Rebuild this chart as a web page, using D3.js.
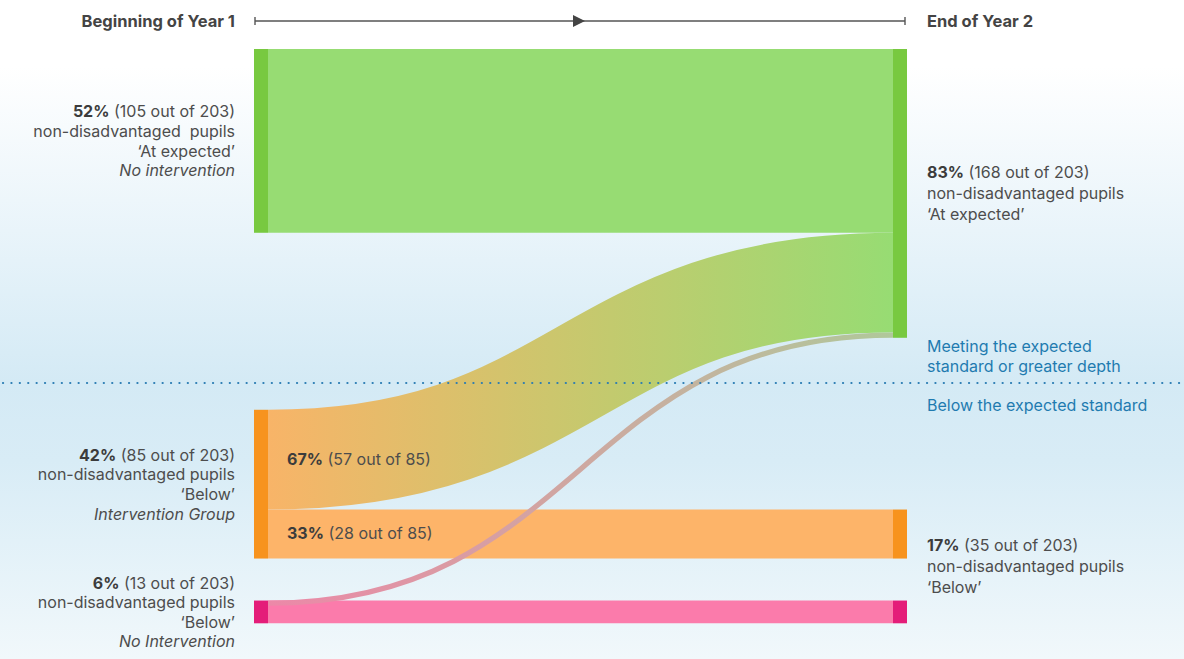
<!DOCTYPE html>
<html>
<head>
<meta charset="utf-8">
<script src="https://cdn.jsdelivr.net/npm/d3@7"></script>
<style>
  body { margin: 0; background: #fff; }
  svg { display: block; font-family: Inter, "Open Sans", sans-serif; }
  text { white-space: pre; }
</style>
</head>
<body>
<svg id="chart" width="1184" height="659"></svg>
<script>
// pupils per group (203 non-disadvantaged pupils)
var nodeIds    = ["y1Expected", "y1Intervention", "y1NoIntervention", "y2Expected", "y2Below", "y2BelowNoInt"];
var nodeCols   = [0, 0, 0, 1, 1, 1];
var nodeFill   = ["#78c940", "#f7931e", "#e41d79", "#78c940", "#f7931e", "#e41d79"];
var linkSource = ["y1Expected", "y1Intervention", "y1Intervention", "y1NoIntervention", "y1NoIntervention"];
var linkTarget = ["y2Expected", "y2Expected", "y2Below", "y2BelowNoInt", "y2Expected"];
var linkValues = [105, 57, 28, 13, 3];
var totalPupils = 203;

var leftLabels = [
  {bold: "52%", rest: " (105 out of 203)", lines: ["non-disadvantaged  pupils", "\u2018At expected\u2019"], italic: "No intervention"},
  {bold: "42%", rest: " (85 out of 203)", lines: ["non-disadvantaged pupils", "\u2018Below\u2019"], italic: "Intervention Group"},
  {bold: "6%", rest: " (13 out of 203)", lines: ["non-disadvantaged pupils", "\u2018Below\u2019"], italic: "No Intervention"}
];
var rightLabels = [
  {bold: "83%", rest: " (168 out of 203)", lines: ["non-disadvantaged pupils", "\u2018At expected\u2019"]},
  {bold: "17%", rest: " (35 out of 203)", lines: ["non-disadvantaged pupils", "\u2018Below\u2019"]}
];
var bandLabels = [
  {link: 1, bold: "67%", rest: " (57 out of 85)"},
  {link: 2, bold: "33%", rest: " (28 out of 85)"}
];

var W = 1184, H = 659;
var fs = 16;
var svg = d3.select("#chart");
var defs = svg.append("defs");

// background wash
var bg = defs.append("linearGradient").attr("id", "bg")
  .attr("x1", 0).attr("y1", 0).attr("x2", 0).attr("y2", 1);
[[0, "#ffffff"], [0.1, "#ffffff"], [0.35, "#e9f4fa"], [0.58, "#d4eaf5"], [0.7, "#d8ecf6"], [1, "#f1f8fb"]]
  .forEach(function(s){ bg.append("stop").attr("offset", s[0]).attr("stop-color", s[1]); });
svg.append("rect").attr("width", W).attr("height", H).attr("fill", "url(#bg)");

// layout
var x = d3.scaleOrdinal().domain([0, 1]).range([254, 893]);
var nodeW = 14;
var y = d3.scaleLinear().domain([0, totalPupils]).range([0, 355.3]);
var top0 = 49;
var colGaps = [[0, 177, 42], [0, 171, 42]];

var nodes = nodeIds.map(function(id, i){
  return {id: id, col: nodeCols[i], fill: nodeFill[i], outs: [], ins: []};
});
var byId = {};
nodes.forEach(function(n){ byId[n.id] = n; });
var links = linkValues.map(function(v, i){
  var l = {source: byId[linkSource[i]], target: byId[linkTarget[i]], value: v, i: i};
  l.source.outs.push(l); l.target.ins.push(l);
  return l;
});
// thin link overlays the top of its source node
links[4].overlay = true;

nodes.forEach(function(n){
  var a = d3.sum(n.outs.filter(function(l){ return !l.overlay; }), function(l){ return l.value; });
  var b = d3.sum(n.ins, function(l){ return l.value; });
  n.value = n.col === 0 ? a : b;
});
[0, 1].forEach(function(c){
  var yy = top0;
  nodes.filter(function(n){ return n.col === c; }).forEach(function(n, k){
    yy += colGaps[c][k];
    n.y0 = yy; n.y1 = yy + y(n.value);
    yy = n.y1;
  });
});
// below-standard right column: keep bars aligned with their sources
byId.y2Below.y1 = byId.y1Intervention.y1;
byId.y2Below.y0 = byId.y2Below.y1 - y(byId.y2Below.value);
byId.y2BelowNoInt.y0 = byId.y1NoIntervention.y0;
byId.y2BelowNoInt.y1 = byId.y2BelowNoInt.y0 + y(byId.y2BelowNoInt.value);

nodes.forEach(function(n){ n.so = n.y0; n.to = n.y0; });
links.forEach(function(l){
  var w = y(l.value);
  if (l.overlay) {
    l.sy = l.source.y0 + w / 2;
  } else {
    l.sy = l.source.so + w / 2; l.source.so += w;
  }
  l.ty = l.target.to + w / 2; l.target.to += w;
  l.width = w;
});

var linkColors = [["#97dc73", "#97dc73"], ["#f8b468", "#97dc73"], ["#fdb469", "#fdb469"],
                  ["#fb7bab", "#fb7bab"], ["#ec88a8", "#b0c89a"]];
links.forEach(function(l){
  var g = defs.append("linearGradient").attr("id", "lg" + l.i)
    .attr("gradientUnits", "userSpaceOnUse")
    .attr("x1", x(0) + nodeW).attr("x2", x(1)).attr("y1", 0).attr("y2", 0);
  g.append("stop").attr("offset", 0).attr("stop-color", linkColors[l.i][0]);
  g.append("stop").attr("offset", 1).attr("stop-color", linkColors[l.i][1]);
});

var link = d3.linkHorizontal()
  .source(function(l){ return [x(0) + nodeW, l.sy]; })
  .target(function(l){ return [x(1), l.ty]; });

// straight / wide bands first, thin link on top
svg.append("g").selectAll("path")
  .data(links)
  .join("path")
  .attr("d", link)
  .attr("fill", "none")
  .attr("stroke", function(l){ return "url(#lg" + l.i + ")"; })
  .attr("stroke-width", function(l){ return l.width; });

svg.append("g").selectAll("rect")
  .data(nodes)
  .join("rect")
  .attr("x", function(n){ return x(n.col); })
  .attr("y", function(n){ return n.y0; })
  .attr("width", nodeW)
  .attr("height", function(n){ return n.y1 - n.y0; })
  .attr("fill", function(n){ return n.fill; });

// dotted divider between expected and below
var divY = 383;
svg.append("line")
  .attr("x1", 3).attr("x2", W).attr("y1", divY).attr("y2", divY)
  .attr("stroke", "#2a7cb3").attr("stroke-width", 2.2)
  .attr("stroke-linecap", "round").attr("stroke-dasharray", "0.1 8.3");

function richLine(g, xPos, yPos, anchor, parts, size) {
  var t = g.append("text").attr("x", xPos).attr("y", yPos)
    .attr("text-anchor", anchor).attr("dominant-baseline", "central")
    .attr("font-size", size || fs);
  parts.forEach(function(p){
    t.append("tspan").text(p.text)
      .attr("font-weight", p.bold ? 700 : 400)
      .attr("font-style", p.italic ? "italic" : null)
      .attr("fill", p.fill || (p.bold ? "#3c3c3c" : "#4d4d4d"));
  });
  return t;
}

// left labels, centred on their node
var labels = svg.append("g");
var leftNodes = nodes.filter(function(n){ return n.col === 0; });
leftLabels.forEach(function(d, i){
  var n = leftNodes[i], lh = 19.6;
  var all = [[{text: d.bold, bold: true}, {text: d.rest}]]
    .concat(d.lines.map(function(s){ return [{text: s}]; }))
    .concat([[{text: d.italic, italic: true}]]);
  var c = (n.y0 + n.y1) / 2 - (all.length - 1) * lh / 2;
  all.forEach(function(parts, k){ richLine(labels, 235, c + k * lh, "end", parts); });
});

// right labels: expected node, and the two below bars together
var rightSpans = [[byId.y2Expected.y0, byId.y2Expected.y1], [byId.y2Below.y0, byId.y2BelowNoInt.y1]];
rightLabels.forEach(function(d, i){
  var lh = 21;
  var all = [[{text: d.bold, bold: true}, {text: d.rest}]]
    .concat(d.lines.map(function(s){ return [{text: s}]; }));
  var c = (rightSpans[i][0] + rightSpans[i][1]) / 2 - (all.length - 1) * lh / 2;
  all.forEach(function(parts, k){ richLine(labels, 927, c + k * lh, "start", parts); });
});

// band labels at the source end of each link
bandLabels.forEach(function(d){
  var l = links[d.link];
  richLine(labels, x(0) + nodeW + 19, l.sy - 1, "start", [{text: d.bold, bold: true}, {text: d.rest}]);
});

// standard captions either side of the divider
richLine(labels, 927, divY - 37, "start", [{text: "Meeting the expected", fill: "#1f7bb0"}]);
richLine(labels, 927, divY - 17, "start", [{text: "standard or greater depth", fill: "#1f7bb0"}]);
richLine(labels, 927, divY + 22, "start", [{text: "Below the expected standard", fill: "#1f7bb0"}]);

// time axis
var tl = svg.append("g").attr("stroke", "#555").attr("stroke-width", 1.4);
var ay = 21;
tl.append("line").attr("x1", 255).attr("x2", 905).attr("y1", ay).attr("y2", ay);
tl.append("line").attr("x1", 255).attr("x2", 255).attr("y1", ay - 4).attr("y2", ay + 4);
tl.append("line").attr("x1", 905).attr("x2", 905).attr("y1", ay - 4).attr("y2", ay + 4);
svg.append("path").attr("d", "M573," + (ay - 6) + "L585," + ay + "L573," + (ay + 6) + "Z").attr("fill", "#444");

richLine(labels, 235, ay, "end", [{text: "Beginning of Year 1", bold: true, fill: "#444"}], 16.5);
richLine(labels, 927, ay, "start", [{text: "End of Year 2", bold: true, fill: "#444"}], 16.5);
</script>
</body>
</html>
